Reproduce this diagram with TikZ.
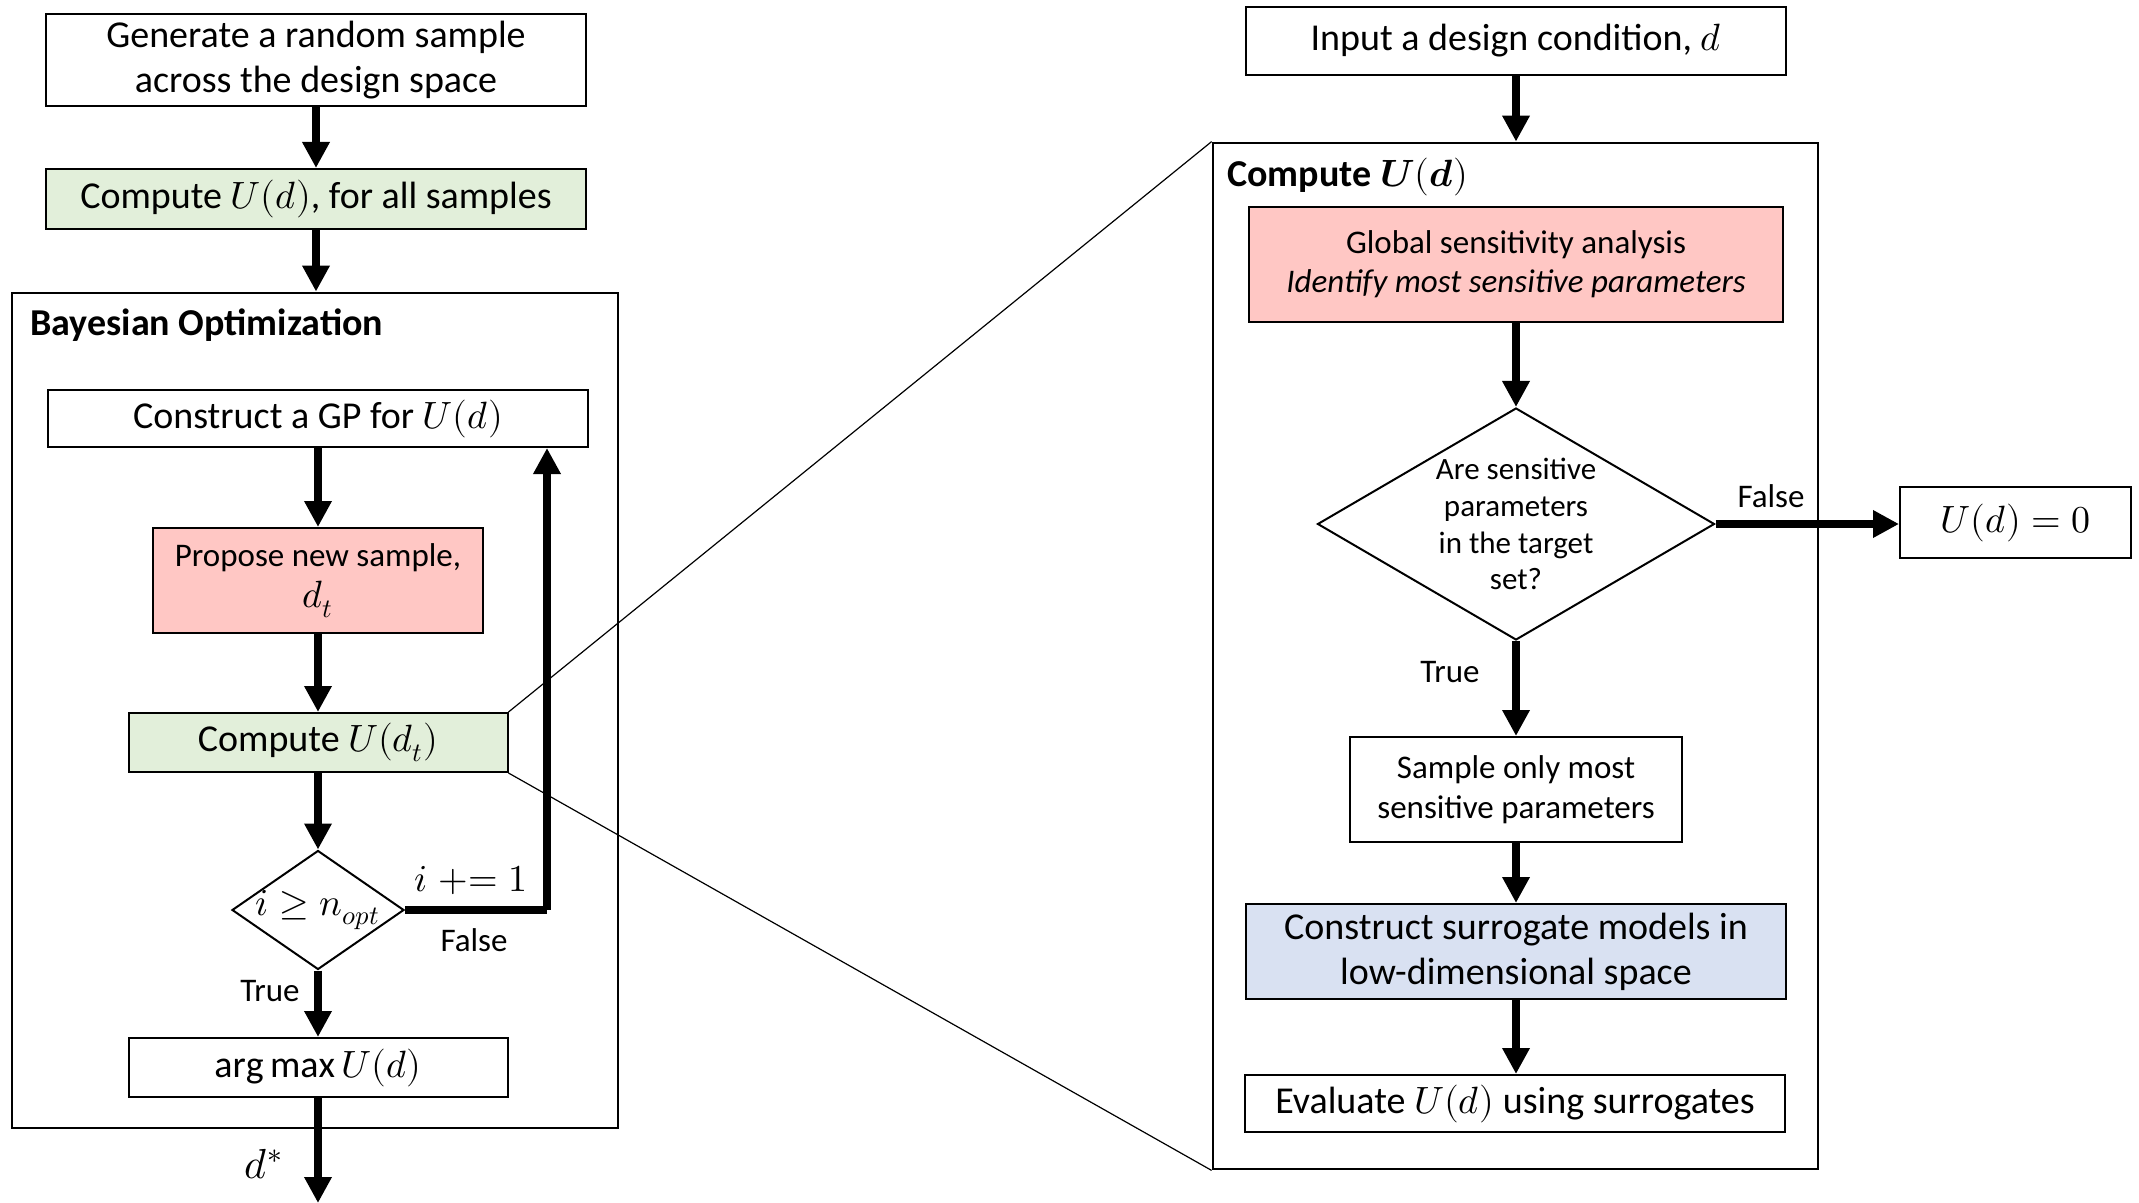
\documentclass[tikz,border=0pt]{standalone}
\usepackage{fontspec}
\usepackage{unicode-math}
\setmainfont{Carlito}
\usetikzlibrary{arrows.meta,shapes.geometric}
\definecolor{gfill}{RGB}{226,239,218}
\definecolor{pfill}{RGB}{255,199,196}
\definecolor{bfill}{RGB}{217,225,242}
\begin{document}
\begin{tikzpicture}[x=0.5pt,y=-0.5pt,
  big/.style={font=\fontsize{19}{22.5}\selectfont},
  mid/.style={font=\fontsize{16.5}{19.5}\selectfont},
  box/.style={draw,line width=1pt,inner sep=0pt,align=center,big},
  frame/.style={draw,line width=1.4pt,inner sep=0pt},
  dia/.style={draw,line width=1pt,diamond,inner sep=0pt},
  flow/.style={line width=4pt,-{Triangle[width=13pt,length=13pt]}},
  loopline/.style={line width=4pt},
  zoomline/.style={line width=0.6pt},
  lbl/.style={inner sep=0pt}
]
\useasboundingbox (0,0) rectangle (2139,1203);

% ---------- left column ----------
\node[frame,minimum width=303pt,minimum height=417.5pt] (bayes) at (315,710.5) {};
\node[lbl,big,anchor=west] (btitle) at (30,325) {\bfseries Bayesian Optimization};

\node[box,minimum width=270pt,minimum height=46pt] (gen) at (316,60) {Generate a random sample\\across the design space};
\node[box,fill=gfill,minimum width=270pt,minimum height=30pt] (comp) at (316,199) {Compute $U(d)$, for all samples};
\node[box,minimum width=270pt,minimum height=28.5pt] (gp) at (318,418.5) {Construct a GP for $U(d)$};
\node[box,mid,fill=pfill,minimum width=165pt,minimum height=52.5pt] (prop) at (318,580.5) {Propose new sample,\\[1pt]{\fontsize{19}{22}\selectfont$d_t$}};
\node[box,fill=gfill,minimum width=189.5pt,minimum height=29.5pt] (cdt) at (318,742.5) {Compute $U(d_t)$};
\node[dia,minimum width=86pt,minimum height=59.5pt] (cond) at (318,910) {};
\node[lbl,big] (condt) at (cond) {$i \geq n_{opt}$};
\node[box,minimum width=189.5pt,minimum height=29.5pt] (amax) at (318,1067.5) {$\arg\max U(d)$};
\coordinate (dend) at (318,1203);
\coordinate (lc) at (547,910);

\draw[flow] (gen.south) -- (comp.north);
\draw[flow] (comp.south) -- (comp.south |- bayes.north);
\draw[flow] (gp) -- (prop);
\draw[flow] (prop) -- (cdt);
\draw[flow] (cdt) -- (cond);
\draw[flow] (cond) -- (amax);
\draw[flow] (amax) -- (dend);
\draw[loopline] (cond.east) -- (lc);
\draw[flow] (lc) -- (lc |- gp.south);

\node[lbl,big] (inc) at (471,880) {$i \mathrel{+}= 1$};
\node[lbl,mid] (lfalse) at (474,940) {False};
\node[lbl,mid] (ltrue) at (270,991) {True};
\node[lbl,font=\fontsize{21}{24}\selectfont] (dstar) at (264,1164) {$d^{*}$};

% ---------- right column ----------
\node[frame,minimum width=302.5pt,minimum height=513pt] (cud) at (1515.5,656) {};
\node[lbl,big,anchor=west] (ctitle) at (1227,177) {\bfseries Compute $\mathbfit{U}(\mathbfit{d})$};

\node[box,minimum width=270pt,minimum height=34pt] (inp) at (1516,41) {Input a design condition, $d$};
\node[box,mid,fill=pfill,minimum width=267pt,minimum height=57.5pt] (gsa) at (1516,264.5) {Global sensitivity analysis\\\textit{Identify most sensitive parameters}};
\node[dia,minimum width=198.5pt,minimum height=116pt] (q) at (1516,524) {};
\node[lbl,align=center,font=\fontsize{15.5}{18.4}\selectfont] (qt) at (q) {Are sensitive\\parameters\\in the target\\set?};
\node[box,minimum width=115.5pt,minimum height=35.5pt] (zero) at (2015.5,522.5) {$U(d) = 0$};
\node[box,font=\fontsize{16.5}{20}\selectfont,minimum width=166pt,minimum height=52.5pt] (samp) at (1516,789.5) {Sample only most\\sensitive parameters};
\node[box,fill=bfill,minimum width=270pt,minimum height=47.5pt] (surr) at (1516,951.5) {Construct surrogate models in\\low-dimensional space};
\node[box,minimum width=270pt,minimum height=28.5pt] (eval) at (1515,1103.5) {Evaluate $U(d)$ using surrogates};

\draw[flow] (inp.south) -- (inp.south |- cud.north);
\draw[flow] (gsa) -- (q);
\draw[flow] (q.east) -- (q.east -| zero.west);
\draw[flow] (q) -- (samp);
\draw[flow] (samp) -- (surr);
\draw[flow] (surr) -- (eval.north -| surr.south);

\node[lbl,mid] (rfalse) at (1771,496) {False};
\node[lbl,mid] (rtrue) at (1450,672) {True};

% ---------- zoom lines ----------
\draw[zoomline] (cdt.north east) -- (cud.north west);
\draw[zoomline] (cdt.south east) -- (cud.south west);
\end{tikzpicture}
\end{document}
